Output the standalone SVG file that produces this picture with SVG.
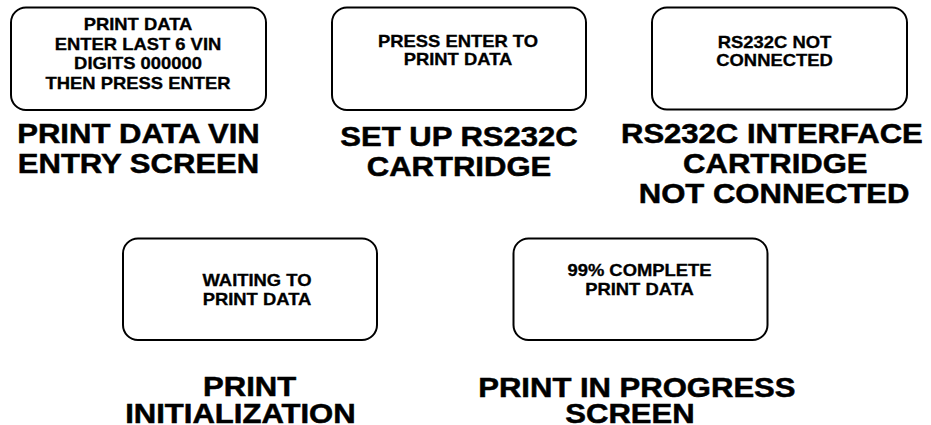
<svg xmlns="http://www.w3.org/2000/svg" width="931" height="425" viewBox="0 0 931 425">
<style>
.box{fill:#fff;stroke:#000;stroke-width:2}
text{font-family:"Liberation Sans",Arial,Helvetica,sans-serif;font-weight:bold;fill:#000;stroke:#000;text-anchor:middle}
.s{font-size:16px;stroke-width:0.3}
.l{font-size:27px;stroke-width:0.5}
</style>
<rect width="931" height="425" fill="#fff"/>
<g id="connectors"/>
<g id="node-vin-entry">
<rect class="box" x="11" y="7.5" width="255" height="102.5" rx="15"/>
<g transform="translate(138 0) scale(1.15 1)">
<text class="s" x="0" y="30">PRINT DATA</text>
<text class="s" x="0" y="50">ENTER LAST 6 VIN</text>
<text class="s" x="0" y="69.5">DIGITS 000000</text>
<text class="s" x="0" y="89">THEN PRESS ENTER</text>
</g>
<g transform="translate(138.5 0) scale(1.15 1)">
<text class="l" x="0" y="143.5">PRINT DATA VIN</text>
<text class="l" x="0" y="173.5">ENTRY SCREEN</text>
</g>
</g>
<g id="node-setup">
<rect class="box" x="332" y="7.5" width="254" height="102.5" rx="15"/>
<g transform="translate(458 0) scale(1.15 1)">
<text class="s" x="0" y="47">PRESS ENTER TO</text>
<text class="s" x="0" y="65.5">PRINT DATA</text>
</g>
<g transform="translate(459 0) scale(1.15 1)">
<text class="l" x="0" y="146">SET UP RS232C</text>
<text class="l" x="0" y="176">CARTRIDGE</text>
</g>
</g>
<g id="node-not-connected">
<rect class="box" x="652" y="7.5" width="255" height="102" rx="15"/>
<g transform="translate(774.5 0) scale(1.15 1)">
<text class="s" x="0" y="48">RS232C NOT</text>
<text class="s" x="0" y="66.5">CONNECTED</text>
</g>
<g transform="translate(773 0) scale(1.15 1)">
<text class="l" x="-1" y="143">RS232C INTERFACE</text>
<text class="l" x="2" y="173">CARTRIDGE</text>
<text class="l" x="1" y="203">NOT CONNECTED</text>
</g>
</g>
<g id="node-print-init">
<rect class="box" x="123" y="238.5" width="254" height="101.5" rx="15"/>
<g transform="translate(257 0) scale(1.15 1)">
<text class="s" x="0" y="286.5">WAITING TO</text>
<text class="s" x="0" y="305">PRINT DATA</text>
</g>
<g transform="translate(245 0) scale(1.15 1)">
<text class="l" x="4" y="396.5">PRINT</text>
<text class="l" x="-4" y="423">INITIALIZATION</text>
</g>
</g>
<g id="node-print-progress">
<rect class="box" x="513.5" y="238.5" width="254" height="101.5" rx="15"/>
<g transform="translate(639.5 0) scale(1.15 1)">
<text class="s" x="0" y="276.5">99% COMPLETE</text>
<text class="s" x="0" y="295.5">PRINT DATA</text>
</g>
<g transform="translate(634 0) scale(1.15 1)">
<text class="l" x="2.5" y="397">PRINT IN PROGRESS</text>
<text class="l" x="-3.5" y="423">SCREEN</text>
</g>
</g>
</svg>
